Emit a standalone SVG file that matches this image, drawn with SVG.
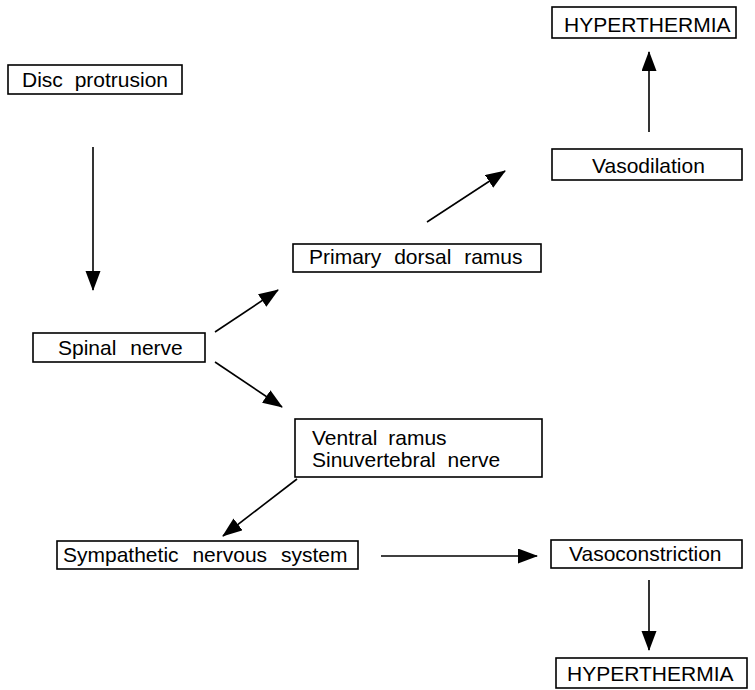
<svg xmlns="http://www.w3.org/2000/svg" width="755" height="690" viewBox="0 0 755 690">
<style>
.box{fill:#fff;stroke:#000;stroke-width:1.6}
.t{font-family:"Liberation Sans",Arial,sans-serif;font-size:21px;fill:#000}
.c{stroke:#000;stroke-width:1.6;fill:none;marker-end:url(#ah)}
</style>
<defs>
<marker id="ah" markerUnits="userSpaceOnUse" markerWidth="20" markerHeight="16" refX="19" refY="7.5" orient="auto">
<path d="M0,0 L20,7.5 L0,15 Z" fill="#000"/>
</marker>
</defs>
<rect width="755" height="690" fill="#fff"/>
<g id="connectors">
<line class="c" x1="93" y1="147" x2="93" y2="290"/>
<line class="c" x1="215" y1="332" x2="278" y2="290"/>
<line class="c" x1="215" y1="362" x2="282" y2="407"/>
<line class="c" x1="427" y1="222" x2="505" y2="171"/>
<line class="c" x1="649" y1="132" x2="649" y2="52"/>
<line class="c" x1="297" y1="479" x2="223" y2="536"/>
<line class="c" x1="381" y1="556" x2="537" y2="556"/>
<line class="c" x1="649" y1="580" x2="649" y2="650"/>
</g>
<g id="disc">
<rect class="box" x="8" y="65" width="174" height="29"/>
<text class="t" x="22" y="87" word-spacing="6">Disc protrusion</text>
</g>
<g id="spinal">
<rect class="box" x="33" y="333" width="172" height="29"/>
<text class="t" x="58" y="355" word-spacing="8">Spinal nerve</text>
</g>
<g id="primary">
<rect class="box" x="293" y="244" width="248" height="28"/>
<text class="t" x="309" y="264" word-spacing="7">Primary dorsal ramus</text>
</g>
<g id="ventral">
<rect class="box" x="295" y="419" width="247" height="58"/>
<text class="t" x="312" y="445" word-spacing="5">Ventral ramus</text>
<text class="t" x="312" y="467" word-spacing="6">Sinuvertebral nerve</text>
</g>
<g id="sympathetic">
<rect class="box" x="57" y="541" width="301" height="28"/>
<text class="t" x="63" y="562" word-spacing="8">Sympathetic nervous system</text>
</g>
<g id="vasodilation">
<rect class="box" x="552" y="149" width="190" height="31"/>
<text class="t" x="592" y="173">Vasodilation</text>
</g>
<g id="hyper-top">
<rect class="box" x="552" y="7" width="184" height="31"/>
<text class="t" x="564" y="32">HYPERTHERMIA</text>
</g>
<g id="vasoconstriction">
<rect class="box" x="551" y="540" width="191" height="28"/>
<text class="t" x="569" y="561">Vasoconstriction</text>
</g>
<g id="hyper-bottom">
<rect class="box" x="556" y="658" width="191" height="30"/>
<text class="t" x="567" y="681">HYPERTHERMIA</text>
</g>
</svg>
